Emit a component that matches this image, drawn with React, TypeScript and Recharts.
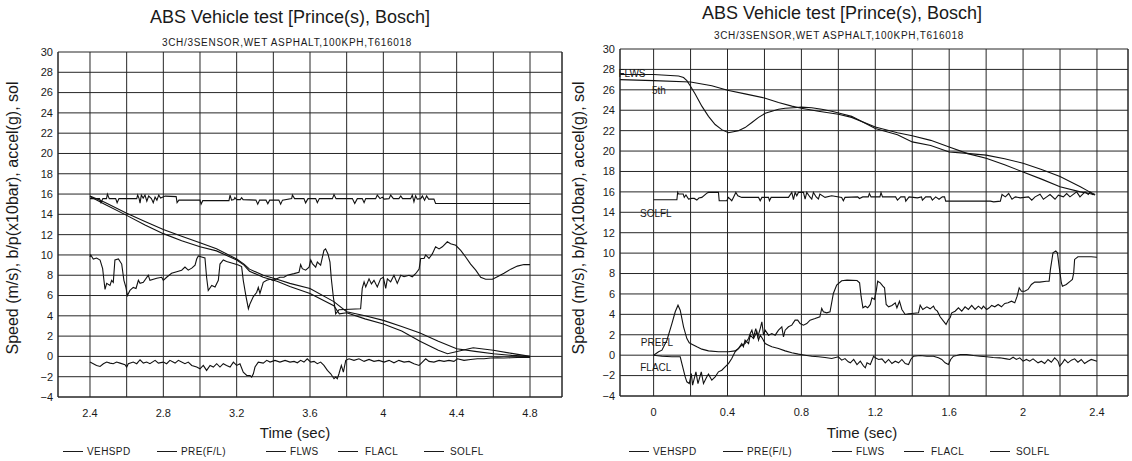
import React from "react";
import { LineChart, Line, XAxis, YAxis, CartesianGrid, ReferenceLine, ReferenceDot } from "recharts";

type Pt = [number, number];

const FONT = '"Liberation Sans", Arial, sans-serif';
const INK = "#1a1a1a";
const GRID = "#262626";

const TITLE = "ABS Vehicle test [Prince(s), Bosch]";
const SUBTITLE = "3CH/3SENSOR,WET ASPHALT,100KPH,T616018";
const Y_LABEL = "Speed (m/s), b/p(x10bar), accel(g), sol";
const X_LABEL = "Time (sec)";
const LEGEND_NAMES = ["VEHSPD", "PRE(F/L)", "FLWS", "FLACL", "SOLFL"];

const Y_TICKS = [-4, -2, 0, 2, 4, 6, 8, 10, 12, 14, 16, 18, 20, 22, 24, 26, 28, 30];

const L_X_TICKS = [2.4, 2.6, 2.8, 3.0, 3.2, 3.4, 3.6, 3.8, 4.0, 4.2, 4.4, 4.6, 4.8];
const L_X_LABELS = ["2.4", "", "2.8", "", "3.2", "", "3.6", "", "4", "", "4.4", "", "4.8"];
const R_X_TICKS = [0, 0.2, 0.4, 0.6, 0.8, 1.0, 1.2, 1.4, 1.6, 1.8, 2.0, 2.2, 2.4];
const R_X_LABELS = ["0", "", "0.4", "", "0.8", "", "1.2", "", "1.6", "", "2", "", "2.4"];

// ---- left run (2.4 .. 4.8 s)
const L_VEHSPD: Pt[] = [
  [2.4, 15.8], [2.48, 15.2], [2.6, 14.1], [2.7, 13.3], [2.8, 12.5], [2.9, 11.85], [3.0, 11.2], [3.09, 10.6],
  [3.2, 9.6], [3.24, 9.1], [3.27, 8.6], [3.345, 8.0], [3.42, 7.6], [3.49, 7.2], [3.6, 6.7], [3.73, 5.4],
  [3.8, 4.4], [3.9, 4.0], [4.0, 3.55], [4.1, 2.95], [4.2, 2.3], [4.3, 1.5], [4.4, 0.76], [4.5, 0.5],
  [4.6, 0.26], [4.7, 0.1], [4.77, 0.03], [4.8, 0.0],
];

const L_FLWS: Pt[] = [
  [2.4, 15.75], [2.48, 15.0], [2.6, 13.9], [2.7, 12.95], [2.8, 12.1], [2.9, 11.4], [3.0, 10.8], [3.09, 10.4],
  [3.2, 9.5], [3.24, 9.0], [3.27, 8.4], [3.345, 7.8], [3.42, 7.4], [3.49, 6.9], [3.6, 6.2], [3.73, 5.0],
  [3.76, 4.2], [3.8, 4.3], [3.9, 3.7], [4.0, 3.2], [4.1, 2.5], [4.2, 1.5], [4.3, 0.6], [4.35, 0.26],
  [4.42, 0.55], [4.49, 0.86], [4.6, 0.6], [4.7, 0.3], [4.8, 0.0],
];

const L_PRE: Pt[] = [
  [2.4, 9.8], [2.404, 10.0], [2.418, 9.6], [2.436, 9.7], [2.455, 9.5], [2.469, 8.65], [2.476, 7.5], [2.482, 6.6],
  [2.491, 7.2], [2.509, 7.0], [2.518, 7.5], [2.527, 7.3], [2.536, 9.5], [2.555, 9.6], [2.573, 9.1], [2.585, 7.5],
  [2.596, 6.8], [2.604, 6.0], [2.618, 6.5], [2.636, 6.8], [2.651, 6.7], [2.664, 7.5], [2.673, 7.2], [2.691, 7.3],
  [2.718, 8.0], [2.727, 7.5], [2.764, 7.7], [2.791, 7.8], [2.8, 7.5], [2.818, 7.8], [2.845, 8.2], [2.873, 8.35],
  [2.9, 8.5], [2.918, 8.8], [2.936, 8.5], [2.955, 8.7], [2.973, 9.0], [2.982, 9.6], [2.991, 9.9], [3.009, 9.8],
  [3.027, 9.7], [3.036, 7.8], [3.045, 6.5], [3.064, 7.0], [3.082, 6.85], [3.1, 7.5], [3.109, 9.1], [3.127, 9.5],
  [3.145, 9.35], [3.173, 9.2], [3.209, 9.0], [3.227, 8.85], [3.236, 7.5], [3.251, 5.9], [3.264, 4.7], [3.273, 5.2],
  [3.291, 5.9], [3.309, 6.3], [3.318, 6.8], [3.327, 6.2], [3.345, 7.3], [3.364, 7.5], [3.382, 7.6], [3.4, 7.5],
  [3.436, 7.8], [3.458, 7.8], [3.476, 8.0], [3.513, 8.16], [3.54, 8.3], [3.549, 9.05], [3.558, 8.65], [3.576, 8.5],
  [3.595, 8.8], [3.604, 9.5], [3.613, 9.15], [3.631, 8.8], [3.64, 9.3], [3.658, 9.0], [3.676, 10.45], [3.685, 10.6],
  [3.698, 10.1], [3.709, 9.3], [3.716, 7.7], [3.727, 5.9], [3.735, 4.9], [3.74, 4.2], [3.758, 4.6], [3.876, 4.7],
  [3.885, 6.7], [3.895, 7.35], [3.904, 6.85], [3.922, 7.65], [3.935, 7.15], [3.949, 7.5], [3.967, 6.85], [3.985, 7.65],
  [4.0, 7.8], [4.013, 6.7], [4.022, 7.65], [4.04, 7.35], [4.058, 8.0], [4.076, 7.2], [4.095, 8.0], [4.113, 7.85],
  [4.14, 8.0], [4.158, 7.85], [4.176, 8.15], [4.195, 8.6], [4.204, 9.65], [4.222, 9.65], [4.231, 10.0], [4.249, 9.65],
  [4.267, 10.1], [4.285, 10.8], [4.304, 10.6], [4.322, 10.8], [4.349, 11.3], [4.367, 11.1], [4.395, 10.95], [4.422, 10.45],
  [4.449, 9.8], [4.476, 9.1], [4.504, 8.5], [4.531, 7.8], [4.558, 7.6], [4.595, 7.6], [4.622, 7.85], [4.658, 8.2],
  [4.695, 8.6], [4.731, 8.9], [4.767, 9.05], [4.8, 9.05],
];

const L_FLACL: Pt[] = [
  [2.4, -0.56], [2.418, -0.72], [2.436, -0.89], [2.455, -0.99], [2.473, -0.72], [2.491, -0.56], [2.509, -0.66], [2.527, -0.72],
  [2.545, -0.56], [2.564, -0.66], [2.591, -0.82], [2.6, -1.05], [2.609, -0.72], [2.636, -0.56], [2.655, -0.72], [2.673, -0.33],
  [2.691, -0.66], [2.709, -0.56], [2.727, -0.72], [2.755, -0.39], [2.773, -0.66], [2.8, -0.56], [2.818, -0.72], [2.836, -0.39],
  [2.864, -0.66], [2.882, -0.39], [2.9, -0.56], [2.918, -0.72], [2.936, -0.56], [2.955, -0.89], [2.982, -1.05], [3.0, -1.22],
  [3.018, -0.89], [3.036, -1.38], [3.055, -0.89], [3.073, -1.05], [3.091, -0.72], [3.109, -1.05], [3.127, -0.72], [3.145, -0.89],
  [3.164, -1.05], [3.182, -0.56], [3.2, -0.89], [3.218, -0.72], [3.236, -1.55], [3.255, -1.88], [3.273, -1.88], [3.282, -2.04],
  [3.291, -1.71], [3.3, -1.05], [3.318, -0.56], [3.345, -0.66], [3.364, -0.39], [3.382, -0.56], [3.409, -0.39], [3.436, -0.56],
  [3.464, -0.39], [3.491, -0.56], [3.513, -0.49], [3.531, -0.63], [3.549, -0.39], [3.567, -0.56], [3.585, -0.23], [3.604, -0.56],
  [3.622, -0.49], [3.64, -0.72], [3.658, -0.56], [3.676, -0.89], [3.695, -1.38], [3.713, -1.71], [3.731, -2.2], [3.74, -2.04],
  [3.749, -2.2], [3.758, -1.71], [3.771, -0.89], [3.782, -1.55], [3.795, -0.39], [3.813, -0.23], [3.84, -0.39], [3.867, -0.23],
  [3.895, -0.49], [3.922, -0.3], [3.949, -0.49], [3.976, -0.39], [4.004, -0.56], [4.031, -0.39], [4.058, -0.63], [4.085, -0.39],
  [4.113, -0.56], [4.14, -0.49], [4.167, -0.72], [4.195, -0.89], [4.213, -0.56], [4.231, -0.23], [4.249, -0.49], [4.276, -0.56],
  [4.304, -0.39], [4.331, -0.49], [4.358, -0.39], [4.385, -0.49], [4.404, -0.23], [4.44, -0.39], [4.476, -0.3], [4.513, -0.23],
  [4.549, -0.23], [4.585, -0.16], [4.622, -0.13], [4.658, -0.16], [4.695, -0.13], [4.731, -0.1], [4.767, -0.07], [4.8, -0.1],
];

const L_SOLFL: Pt[] = [
  [2.4, 15.55], [2.452, 15.55], [2.46, 15.15], [2.47, 15.55], [2.49, 15.55], [2.495, 16.0], [2.505, 15.55], [2.54, 15.55],
  [2.548, 15.15], [2.558, 15.55], [2.655, 15.55], [2.66, 15.9], [2.668, 15.55], [2.673, 15.1], [2.68, 15.9], [2.69, 15.6],
  [2.7, 15.9], [2.71, 15.3], [2.72, 15.8], [2.735, 15.55], [2.745, 15.15], [2.755, 15.7], [2.765, 15.4], [2.775, 15.9],
  [2.785, 15.6], [2.81, 15.8], [2.87, 15.75], [2.875, 15.15], [2.885, 15.4], [3.0, 15.4], [3.006, 15.0], [3.015, 15.35],
  [3.158, 15.35], [3.164, 15.9], [3.172, 15.4], [3.185, 15.45], [3.19, 15.65], [3.2, 15.45], [3.22, 15.45], [3.227, 15.65],
  [3.235, 15.45], [3.305, 15.4], [3.315, 15.0], [3.325, 15.4], [3.36, 15.4], [3.37, 15.05], [3.38, 15.4], [3.43, 15.4],
  [3.44, 15.0], [3.45, 15.4], [3.5, 15.55], [3.504, 15.9], [3.516, 15.55], [3.567, 15.55], [3.576, 15.13], [3.589, 15.55],
  [3.631, 15.55], [3.64, 15.15], [3.651, 15.55], [3.722, 15.55], [3.731, 15.95], [3.742, 15.55], [3.831, 15.55], [3.844, 15.07],
  [3.858, 15.55], [3.885, 15.55], [3.895, 15.15], [3.904, 15.55], [3.958, 15.55], [3.967, 15.9], [3.982, 15.55], [3.995, 15.7],
  [4.004, 15.5], [4.031, 15.55], [4.04, 15.9], [4.055, 15.55], [4.085, 15.55], [4.095, 15.82], [4.105, 15.55], [4.149, 15.55],
  [4.158, 15.9], [4.167, 15.23], [4.176, 15.82], [4.185, 15.5], [4.204, 15.55], [4.213, 15.82], [4.225, 15.4], [4.236, 15.82],
  [4.247, 15.5], [4.276, 15.5], [4.285, 15.07], [4.8, 15.07],
];

// ---- right run (0 .. 2.4 s)
const R_5TH: Pt[] = [
  [-0.182, 27.0], [0, 26.9], [0.2, 26.76], [0.315, 26.4], [0.4, 25.95], [0.495, 25.6], [0.6, 25.2], [0.676, 24.75],
  [0.748, 24.4], [0.8, 24.2], [0.892, 23.9], [1.0, 23.6], [1.072, 23.3], [1.2, 22.35], [1.32, 21.8], [1.4, 21.5],
  [1.5, 21.05], [1.6, 20.4], [1.7, 19.75], [1.8, 19.3], [1.9, 18.65], [2.0, 17.95], [2.1, 17.25], [2.2, 16.5],
  [2.31, 16.0], [2.36, 15.85], [2.39, 15.7],
];

const R_FLWS: Pt[] = [
  [-0.182, 27.5], [0, 27.5], [0.135, 27.35], [0.162, 27.2], [0.18, 26.9], [0.198, 26.4], [0.225, 25.6], [0.261, 24.4],
  [0.297, 23.4], [0.333, 22.6], [0.369, 22.1], [0.405, 21.8], [0.432, 21.9], [0.459, 22.0], [0.495, 22.3], [0.532, 22.8],
  [0.568, 23.3], [0.604, 23.7], [0.64, 23.9], [0.676, 24.1], [0.712, 24.2], [0.757, 24.25], [0.8, 24.3], [0.856, 24.25],
  [0.91, 24.1], [0.964, 23.9], [1.018, 23.65], [1.072, 23.4], [1.2, 22.2], [1.32, 21.6], [1.4, 20.9], [1.5, 20.55],
  [1.6, 19.9], [1.68, 19.8], [1.8, 19.6], [1.9, 19.25], [2.0, 18.8], [2.1, 18.2], [2.2, 17.5], [2.31, 16.5],
  [2.36, 16.0], [2.39, 15.75],
];

const R_PRE: Pt[] = [
  [0, 0], [0.027, 0.33], [0.045, 0.49], [0.072, 1.47], [0.099, 3.1], [0.117, 4.25], [0.132, 4.9], [0.144, 4.41],
  [0.162, 2.78], [0.18, 1.63], [0.193, 1.21], [0.207, 1.08], [0.234, 0.82], [0.261, 0.59], [0.297, 0.42], [0.351, 0.33],
  [0.405, 0.33], [0.441, 0.42], [0.459, 0.65], [0.477, 0.98], [0.495, 1.14], [0.514, 1.63], [0.523, 2.12], [0.532, 2.45],
  [0.541, 1.8], [0.553, 2.61], [0.564, 1.8], [0.577, 2.61], [0.586, 3.27], [0.595, 1.96], [0.604, 2.45], [0.622, 1.96],
  [0.64, 2.12], [0.658, 1.96], [0.676, 2.45], [0.694, 2.78], [0.703, 1.8], [0.712, 2.45], [0.73, 2.78], [0.748, 2.94],
  [0.766, 3.43], [0.78, 3.43], [0.793, 3.1], [0.811, 2.94], [0.829, 3.1], [0.847, 3.43], [0.874, 3.59], [0.9, 3.76],
  [0.91, 4.58], [0.919, 4.25], [0.937, 4.15], [0.955, 4.25], [0.973, 6.05], [0.991, 6.86], [1.018, 7.29], [1.047, 7.35],
  [1.101, 7.32], [1.115, 7.09], [1.123, 5.78], [1.133, 4.64], [1.146, 4.8], [1.159, 4.64], [1.173, 4.97], [1.182, 5.62],
  [1.195, 5.46], [1.205, 6.27], [1.213, 7.25], [1.227, 7.09], [1.241, 6.76], [1.25, 6.6], [1.259, 4.97], [1.272, 4.74],
  [1.29, 4.87], [1.308, 5.13], [1.317, 4.64], [1.331, 5.29], [1.344, 4.48], [1.362, 3.99], [1.38, 4.05], [1.398, 4.08],
  [1.434, 4.15], [1.443, 4.9], [1.457, 4.48], [1.479, 4.74], [1.497, 4.54], [1.515, 4.8], [1.524, 4.48], [1.536, 4.31],
  [1.551, 3.76], [1.569, 3.33], [1.583, 3.01], [1.596, 3.5], [1.605, 3.66], [1.614, 4.15], [1.632, 4.31], [1.65, 4.64],
  [1.668, 4.31], [1.686, 4.74], [1.704, 4.48], [1.722, 4.87], [1.74, 4.48], [1.758, 4.8], [1.776, 4.54], [1.785, 4.8],
  [1.803, 4.48], [1.817, 4.64], [1.83, 4.87], [1.847, 4.74], [1.865, 4.97], [1.883, 4.74], [1.901, 5.07], [1.919, 5.13],
  [1.937, 5.29], [1.955, 5.13], [1.968, 5.78], [1.979, 6.6], [1.991, 6.27], [2.009, 6.27], [2.027, 6.44], [2.045, 6.93],
  [2.063, 7.16], [2.09, 7.16], [2.126, 7.25], [2.141, 7.25], [2.148, 8.4], [2.162, 10.03], [2.177, 10.2], [2.186, 10.03],
  [2.195, 8.73], [2.207, 7.1], [2.213, 6.76], [2.234, 6.93], [2.256, 7.25], [2.267, 7.42], [2.274, 8.07], [2.279, 9.38],
  [2.297, 9.64], [2.369, 9.64], [2.4, 9.6],
];

const R_FLACL: Pt[] = [
  [0, 0], [0.045, -0.1], [0.099, -0.16], [0.144, -0.16], [0.153, -0.82], [0.171, -2.12], [0.18, -2.61], [0.193, -2.78],
  [0.204, -1.8], [0.211, -2.94], [0.229, -1.63], [0.24, -2.78], [0.258, -1.63], [0.27, -2.78], [0.288, -2.12], [0.297, -1.86],
  [0.315, -2.45], [0.333, -2.12], [0.351, -1.63], [0.369, -1.47], [0.387, -1.14], [0.405, -0.82], [0.423, -0.33], [0.441, 0.33],
  [0.459, 0.65], [0.477, 1.14], [0.486, 0.82], [0.495, 1.47], [0.514, 1.14], [0.523, 1.96], [0.541, 1.63], [0.559, 2.29],
  [0.568, 1.47], [0.577, 1.96], [0.589, 1.63], [0.604, 1.14], [0.622, 0.98], [0.64, 0.82], [0.676, 0.65], [0.712, 0.42],
  [0.748, 0.23], [0.784, 0.1], [0.82, 0], [0.856, -0.1], [0.892, -0.16], [0.928, -0.23], [0.964, -0.33], [1.0, -0.16],
  [1.018, -0.49], [1.036, -0.33], [1.054, -0.65], [1.065, -0.75], [1.083, -0.42], [1.101, -0.92], [1.119, -0.59], [1.137, -1.08],
  [1.146, -1.24], [1.155, -0.75], [1.173, -0.92], [1.191, -0.1], [1.2, -0.26], [1.218, -0.42], [1.236, -0.36], [1.254, -0.75],
  [1.272, -0.42], [1.29, -0.82], [1.308, -0.59], [1.326, -0.75], [1.344, -0.42], [1.362, -0.82], [1.38, -0.92], [1.392, -0.42],
  [1.407, -0.1], [1.443, -0.03], [1.479, -0.1], [1.515, -0.1], [1.542, -0.26], [1.56, -0.42], [1.578, -0.75], [1.596, -0.92],
  [1.608, -0.42], [1.623, -0.1], [1.641, -0.03], [1.659, 0.07], [1.695, 0.07], [1.731, -0.03], [1.767, -0.1], [1.803, -0.16],
  [1.838, -0.23], [1.874, -0.26], [1.91, -0.36], [1.928, -0.42], [1.946, -0.2], [1.964, -0.42], [1.982, -0.26], [2.0, -0.59],
  [2.018, -0.42], [2.036, -0.59], [2.054, -0.36], [2.081, -0.75], [2.099, -0.59], [2.117, -0.82], [2.135, -0.42], [2.153, -0.69],
  [2.171, -0.26], [2.189, -0.59], [2.198, -1.08], [2.213, -0.75], [2.225, -0.42], [2.243, -0.75], [2.261, -0.49], [2.279, -0.36],
  [2.297, -0.69], [2.315, -0.42], [2.333, -0.82], [2.351, -0.59], [2.369, -0.42], [2.4, -0.6],
];

const R_SOLFL: Pt[] = [
  [0, 15.23], [0.126, 15.23], [0.13, 15.95], [0.135, 15.79], [0.16, 15.79], [0.166, 15.46], [0.175, 15.69], [0.189, 15.3],
  [0.207, 15.36], [0.22, 15.36], [0.234, 15.2], [0.245, 15.4], [0.261, 15.46], [0.29, 15.9], [0.297, 15.95], [0.351, 15.95],
  [0.355, 15.13], [0.396, 15.13], [0.405, 15.46], [0.423, 15.13], [0.432, 15.46], [0.445, 15.95], [0.456, 15.62], [0.477, 15.46],
  [0.568, 15.46], [0.577, 15.13], [0.586, 15.46], [0.622, 15.46], [0.627, 15.13], [0.636, 15.46], [0.73, 15.46], [0.748, 15.95],
  [0.757, 15.23], [0.766, 15.95], [0.775, 15.62], [0.784, 15.95], [0.811, 15.95], [0.82, 15.3], [0.829, 15.95], [0.846, 15.5],
  [0.856, 15.3], [0.865, 15.95], [0.88, 15.5], [0.892, 15.3], [0.9, 15.79], [0.928, 15.46], [0.964, 15.62], [1.018, 15.46],
  [1.027, 15.13], [1.036, 15.46], [1.105, 15.51], [1.114, 15.35], [1.132, 15.51], [1.162, 15.51], [1.168, 15.84], [1.177, 15.51],
  [1.225, 15.51], [1.231, 15.93], [1.239, 15.51], [1.31, 15.51], [1.32, 15.19], [1.338, 15.51], [1.36, 15.51], [1.365, 15.09],
  [1.383, 15.51], [1.428, 15.41], [1.45, 15.51], [1.455, 15.19], [1.473, 15.51], [1.5, 15.51], [1.509, 15.19], [1.527, 15.51],
  [1.545, 15.28], [1.563, 15.51], [1.575, 15.51], [1.581, 15.09], [1.823, 15.09], [1.841, 15.02], [1.877, 15.09], [1.886, 15.74],
  [1.904, 15.51], [1.922, 15.84], [1.94, 15.28], [1.958, 15.51], [1.985, 15.41], [2.029, 15.51], [2.047, 15.19], [2.065, 15.51],
  [2.092, 15.77], [2.11, 15.28], [2.128, 15.51], [2.146, 15.74], [2.173, 15.28], [2.191, 15.67], [2.218, 15.51], [2.236, 15.84],
  [2.254, 15.51], [2.29, 16.0], [2.308, 15.51], [2.335, 16.0], [2.353, 15.74], [2.362, 16.0], [2.38, 15.7],
];

// curve labels drawn inside the right plot: [time, value, text]
const R_NOTES: [number, number, string][] = [
  [-0.117, 27.6, "FLWS"],
  [0.029, 25.9, "5th"],
  [0.012, 13.9, "SOLFL"],
  [0.018, 1.2, "PREFL"],
  [0.012, -1.2, "FLACL"],
];

// legend placement inside one panel
const LEGEND_LINE_X = [63, 157, 266, 338, 424];
const LEGEND_TEXT_X = [87, 181, 290, 365, 450];

const rows = (pts: Pt[]) => pts.map(([t, v]) => ({ t, v }));
const fmtY = (v: number) => (v < 0 ? `\u2212${-v}` : `${v}`);

interface PanelProps {
  left: number;
  series: Pt[][];
  xDomain: [number, number];
  xTicks: number[];
  xLabels: string[];
  plotTop: number;
  plotBottom: number;
  plotLeft: number;
  plotRight: number;
  titleX: number;
  titleY: number;
  subY: number;
  xLabelX: number;
  notes?: [number, number, string][];
}

function Panel(p: PanelProps) {
  const W = 566;
  const H = 461;
  const centered = (x: number, y: number, size: number, extra: React.CSSProperties = {}): React.CSSProperties => ({
    position: "absolute",
    left: x,
    top: y,
    transform: "translate(-50%, -50%)",
    fontSize: size,
    lineHeight: 1,
    whiteSpace: "nowrap",
    color: INK,
    fontFamily: FONT,
    ...extra,
  });

  return (
    <div style={{ position: "absolute", left: p.left, top: 0, width: W, height: H }}>
      <div style={centered(p.titleX, p.titleY, 18)}>{TITLE}</div>
      <div style={centered(p.titleX - 3, p.subY, 10, { letterSpacing: 0.7 })}>{SUBTITLE}</div>
      <div style={centered(13, 218, 16, { transform: "translate(-50%, -50%) rotate(-90deg)" })}>{Y_LABEL}</div>
      <div style={centered(p.xLabelX, 432, 15)}>{X_LABEL}</div>

      <LineChart
        width={W}
        height={H}
        margin={{ top: p.plotTop, right: W - p.plotRight, left: 0, bottom: 0 }}
        style={{ position: "absolute", left: 0, top: 0 }}
      >
        <CartesianGrid stroke={GRID} strokeWidth={1} />
        <XAxis
          dataKey="t"
          type="number"
          domain={p.xDomain}
          ticks={p.xTicks}
          interval={0}
          allowDataOverflow
          height={H - p.plotBottom}
          tickLine={false}
          tickSize={0}
          tickMargin={12}
          axisLine={{ stroke: GRID }}
          tickFormatter={(_v: number, i: number) => p.xLabels[i] ?? ""}
          tick={{ fontSize: 11, fill: INK, fontFamily: FONT }}
        />
        <YAxis
          type="number"
          domain={[-4, 30]}
          ticks={Y_TICKS}
          interval={0}
          allowDataOverflow
          width={p.plotLeft}
          tickLine={false}
          tickSize={0}
          tickMargin={5}
          axisLine={{ stroke: GRID }}
          tickFormatter={fmtY}
          tick={{ fontSize: 11, fill: INK, fontFamily: FONT }}
        />
        <ReferenceLine x={p.xDomain[1]} stroke={GRID} />
        {p.series.map((pts, i) => (
          <Line
            key={LEGEND_NAMES[i]}
            data={rows(pts)}
            dataKey="v"
            type="linear"
            stroke="#111"
            strokeWidth={1.1}
            dot={false}
            isAnimationActive={false}
          />
        ))}
        {(p.notes ?? []).map(([t, v, text]) => (
          <ReferenceDot
            key={text}
            x={t}
            y={v}
            r={1}
            fill="none"
            stroke="none"
            label={{ value: text, position: "center", fontSize: 10, fill: INK, fontFamily: FONT }}
          />
        ))}
      </LineChart>

      {LEGEND_NAMES.map((name, i) => (
        <React.Fragment key={name}>
          <div
            style={{
              position: "absolute",
              left: LEGEND_LINE_X[i],
              top: 451,
              width: 20,
              height: 0,
              borderTop: `1px solid ${INK}`,
            }}
          />
          <div
            style={{
              position: "absolute",
              left: LEGEND_TEXT_X[i],
              top: 452,
              transform: "translateY(-50%)",
              fontSize: 10,
              letterSpacing: 0.4,
              lineHeight: 1,
              color: INK,
              fontFamily: FONT,
              whiteSpace: "nowrap",
            }}
          >
            {name}
          </div>
        </React.Fragment>
      ))}
    </div>
  );
}

export default function App() {
  return (
    <div style={{ position: "absolute", left: 0, top: 0, width: 1132, height: 461, background: "#fff", overflow: "hidden" }}>
      <Panel
        left={0}
        series={[L_VEHSPD, L_PRE, L_FLWS, L_FLACL, L_SOLFL]}
        xDomain={[2.2255, 4.9745]}
        xTicks={L_X_TICKS}
        xLabels={L_X_LABELS}
        plotTop={52}
        plotBottom={397}
        plotLeft={58}
        plotRight={562}
        titleX={290}
        titleY={17}
        subY={43}
        xLabelX={295}
      />
      <Panel
        left={566}
        series={[R_5TH, R_PRE, R_FLWS, R_FLACL, R_SOLFL]}
        xDomain={[-0.182, 2.568]}
        xTicks={R_X_TICKS}
        xLabels={R_X_LABELS}
        plotTop={49}
        plotBottom={396}
        plotLeft={54}
        plotRight={562}
        titleX={276}
        titleY={13}
        subY={36}
        xLabelX={296}
        notes={R_NOTES}
      />
    </div>
  );
}
